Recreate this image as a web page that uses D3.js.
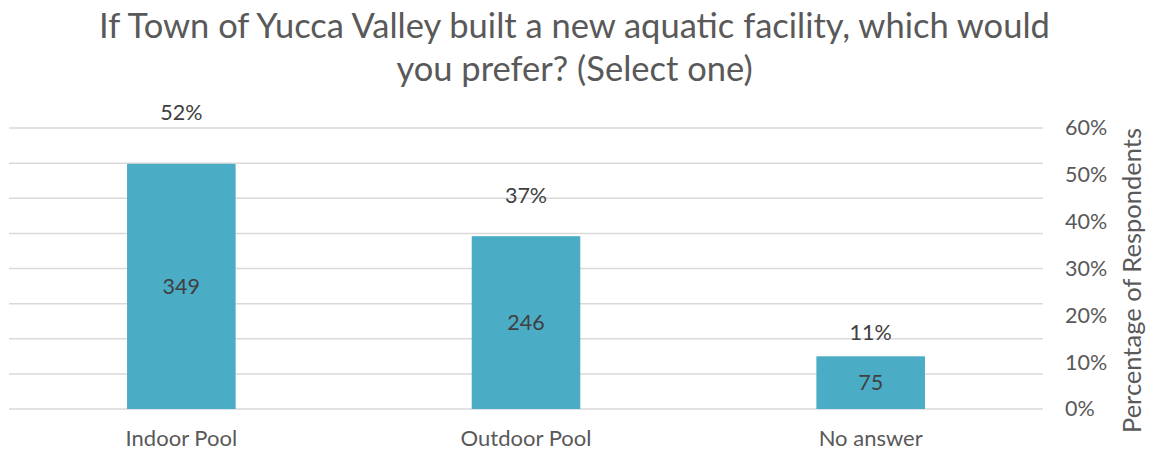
<!DOCTYPE html>
<html>
<head>
<meta charset="utf-8">
<script src="https://cdn.jsdelivr.net/npm/d3@7/dist/d3.min.js"></script>
<style>
  html, body { margin: 0; padding: 0; background: #fff; }
  svg { display: block; font-family: "Lato", "Open Sans", sans-serif; }
</style>
</head>
<body>
<svg id="chart" width="1149" height="451"></svg>
<script>
const titleLines = ["If Town of Yucca Valley built a new aquatic facility, which would", "you prefer? (Select one)"];
const categories = ["Indoor Pool", "Outdoor Pool", "No answer"];
const counts = [349, 246, 75];
const percents = [0.521, 0.367, 0.112];
const countTicks = [0, 50, 100, 150, 200, 250, 300, 350, 400];
const pctTicks = [0, 0.1, 0.2, 0.3, 0.4, 0.5, 0.6];
const axisTitle = "Percentage of Respondents";

const svg = d3.select("#chart");
const W = 1149, H = 451;
const plot = { left: 9, right: 1043, top: 128, bottom: 409 };

const x = d3.scaleBand().domain(categories).range([plot.left, plot.right])
  .paddingInner(0.685).paddingOuter(0.3425);
const yCount = d3.scaleLinear().domain([0, 400]).range([plot.bottom, plot.top]);
const yPct = d3.scaleLinear().domain([0, 0.6]).range([plot.bottom, plot.top]);
// hidden secondary scale on which the percentage labels sit
const yPctLabel = d3.scaleLinear().domain([0, 0.5225]).range([plot.bottom, plot.top]);

// title
svg.append("g").selectAll("text").data(titleLines).join("text")
  .attr("x", W / 2).attr("y", (d, i) => 38 + i * 43)
  .attr("text-anchor", "middle").attr("fill", "#595959")
  .style("font-size", "34.5px").text(d => d);

// gridlines (from hidden count axis)
svg.append("g").selectAll("line").data(countTicks).join("line")
  .attr("x1", plot.left).attr("x2", plot.right)
  .attr("y1", d => yCount(d)).attr("y2", d => yCount(d))
  .attr("stroke", "#d9d9d9").attr("stroke-width", 1.5);

// bars
svg.append("g").selectAll("rect").data(counts).join("rect")
  .attr("x", (d, i) => x(categories[i])).attr("width", x.bandwidth())
  .attr("y", d => yCount(d)).attr("height", d => yCount(0) - yCount(d))
  .attr("fill", "#4bacc6");

// count labels
svg.append("g").selectAll("text").data(counts).join("text")
  .attr("x", (d, i) => x(categories[i]) + x.bandwidth() / 2)
  .attr("y", d => (yCount(d) + yCount(0)) / 2)
  .attr("dy", "0.35em").attr("text-anchor", "middle")
  .attr("fill", "#404040").style("font-size", "21.5px").text(d => d);

// percent labels
svg.append("g").selectAll("text").data(percents).join("text")
  .attr("x", (d, i) => x(categories[i]) + x.bandwidth() / 2)
  .attr("y", d => yPctLabel(d) - 16)
  .attr("dy", "0.35em").attr("text-anchor", "middle")
  .attr("fill", "#404040").style("font-size", "21.5px")
  .text(d => Math.round(d * 100) + "%");

// category axis
const xAxis = svg.append("g").attr("transform", `translate(0,${plot.bottom})`)
  .call(d3.axisBottom(x).tickSize(0).tickPadding(21));
xAxis.select(".domain").remove();
xAxis.selectAll("text").attr("fill", "#595959").style("font-size", "22px")
  .style("font-family", "Lato, 'Open Sans', sans-serif");

// right percent axis
const yAxis = svg.append("g").attr("transform", `translate(${plot.right},0)`)
  .call(d3.axisRight(yPct).tickValues(pctTicks).tickFormat(d3.format(".0%")).tickSize(0).tickPadding(22));
yAxis.select(".domain").remove();
yAxis.selectAll("text").attr("fill", "#595959").style("font-size", "21.5px")
  .style("font-family", "Lato, 'Open Sans', sans-serif");

// axis title
svg.append("text")
  .attr("transform", `translate(1132,${(plot.top + plot.bottom) / 2 + 12}) rotate(-90)`)
  .attr("text-anchor", "middle").attr("dy", "0.35em")
  .attr("fill", "#595959").style("font-size", "25.5px").text(axisTitle);
</script>
</body>
</html>
